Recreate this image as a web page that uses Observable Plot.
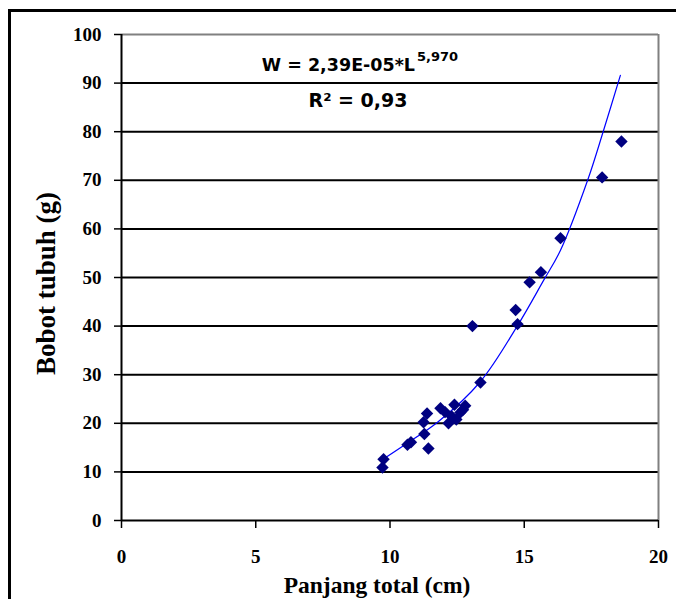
<!DOCTYPE html>
<html>
<head>
<meta charset="utf-8">
<script src="https://cdn.jsdelivr.net/npm/d3@7"></script>
<script src="https://cdn.jsdelivr.net/npm/@observablehq/plot@0.6"></script>
<style>
  html, body { margin: 0; padding: 0; background: #fff; }
  #chart { width: 676px; height: 599px; overflow: hidden; }
</style>
</head>
<body>
<div id="chart"></div>
<script>
// Observed fish: total length (cm) and body weight (g)
const panjang = [9.72, 9.76, 10.65, 10.78, 11.28, 11.43, 11.25, 11.38, 11.88, 12.05, 12.18, 12.3, 12.4, 12.47, 12.62, 12.72, 12.8,
                 13.07, 13.37, 14.68, 14.75, 15.2, 15.62, 16.35, 17.9, 18.62];
const bobot   = [10.9, 12.6, 15.6, 16.1, 17.8, 14.8, 20.2, 22.0, 23.1, 22.3, 20.0, 21.4, 23.8, 20.8, 22.2, 22.8, 23.6,
                 40.0, 28.4, 43.3, 40.4, 49.0, 51.1, 58.1, 70.6, 78.0];

// Trendline
const trendX = [9.65, 10.5, 11.77, 13.37, 14.75, 15.72, 16.35, 17.36, 17.95, 18.58];
const trendY = [12.3, 15.4, 20.2, 28.6, 40.1, 49.4, 55.6, 70.0, 80.2, 91.6];

// Tick labels
const xTicks = [0, 5, 10, 15, 20];
const yTicks = [0, 10, 20, 30, 40, 50, 60, 70, 80, 90, 100];
const gridY  = [10, 20, 30, 40, 50, 60, 70, 80, 90];

const eqMain = "W = 2,39E-05*L";
const eqSup  = "5,970";
const r2Text = "R\u00b2 = 0,93";
const xLabel = "Panjang total (cm)";
const yLabel = "Bobot tubuh (g)";

const points = panjang.map((x, i) => ({x, y: bobot[i]}));
const trend  = trendX.map((x, i) => ({x, y: trendY[i]}));

const serif = "'Liberation Serif', 'Times New Roman', serif";
const eqFont = "'DejaVu Sans', sans-serif";

const chart = Plot.plot({
  width: 676,
  height: 599,
  marginLeft: 121,
  marginRight: 18,
  marginTop: 34,
  marginBottom: 79,
  style: {fontFamily: serif, fontSize: "19px", fontWeight: "bold", color: "#000", background: "#fff", overflow: "visible"},
  x: {domain: [0, 20]},
  y: {domain: [0, 100]},
  marks: [
    Plot.ruleY(gridY, {stroke: "#000", strokeWidth: 2}),
    Plot.ruleY([100], {stroke: "#808080", strokeWidth: 2}),
    Plot.ruleX([20], {stroke: "#808080", strokeWidth: 2}),
    Plot.axisX({ticks: xTicks, tickSize: 8, tickPadding: 21, label: null, stroke: "#000", strokeWidth: 1.5, tickFormat: d => String(d)}),
    Plot.axisY({ticks: yTicks, tickSize: 7, tickPadding: 13, label: null, stroke: "#000", strokeWidth: 1.5, tickFormat: d => String(d)}),
    Plot.ruleY([0], {stroke: "#000", strokeWidth: 2}),
    Plot.ruleX([0], {stroke: "#000", strokeWidth: 2}),
    Plot.line(trend, {x: "x", y: "y", stroke: "#0000ff", strokeWidth: 1.2, curve: "catmull-rom"}),
    Plot.dot(points, {x: "x", y: "y", symbol: "diamond2", r: 5.6, fill: "#000080", stroke: "none"}),
    Plot.text([eqMain], {text: d => d, frameAnchor: "top", textAnchor: "end", lineAnchor: "bottom", dx: 25, dy: 36,
      fontFamily: eqFont, fontSize: 17.5, fontWeight: "bold", fill: "#000"}),
    Plot.text([eqSup], {text: d => d, frameAnchor: "top", textAnchor: "start", lineAnchor: "bottom", dx: 27, dy: 26,
      fontFamily: eqFont, fontSize: 13, fontWeight: "bold", fill: "#000"}),
    Plot.text([r2Text], {text: d => d, frameAnchor: "top", textAnchor: "middle", lineAnchor: "bottom", dx: -32, dy: 72,
      fontFamily: eqFont, fontSize: 19, fontWeight: "bold", fill: "#000"}),
    Plot.text([xLabel], {text: d => d, frameAnchor: "bottom", textAnchor: "middle", lineAnchor: "bottom", dx: -13, dy: 72,
      fontFamily: serif, fontSize: 23.5, fontWeight: "bold", fill: "#000"}),
    Plot.text([yLabel], {text: d => d, frameAnchor: "left", textAnchor: "middle", lineAnchor: "middle", rotate: -90, dx: -75, dy: 6,
      fontFamily: serif, fontSize: 27, fontWeight: "bold", fill: "#000"})
  ]
});

// outer chart-area border (top and left edges visible in the reference)
d3.select(chart).append("path")
  .attr("d", "M9.5,680 L9.5,10.5 L700,10.5")
  .attr("fill", "none").attr("stroke", "#000").attr("stroke-width", 3);

document.getElementById("chart").appendChild(chart);
</script>
</body>
</html>
